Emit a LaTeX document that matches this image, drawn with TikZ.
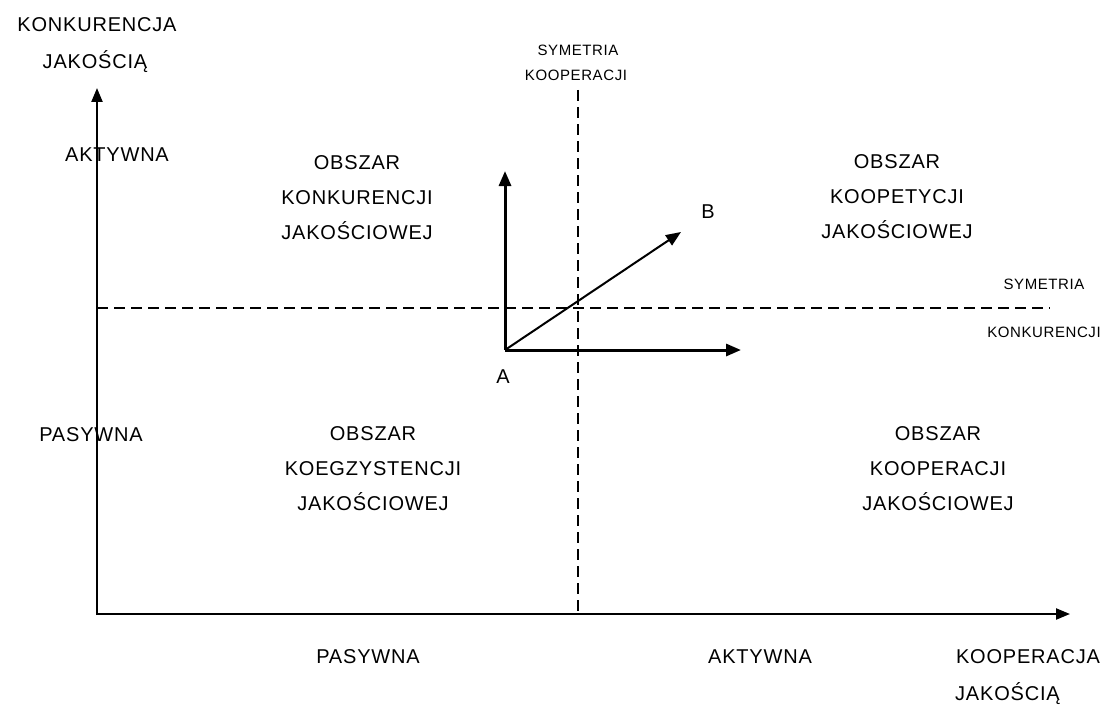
\documentclass[tikz,border=0pt]{standalone}
\usepackage{fontspec}
\setmainfont[LetterSpace=4]{Liberation Sans}
\usepackage{tikz}
\usetikzlibrary{arrows.meta}

\tikzset{
  axis/.style={line width=2.2pt, -{Triangle[length=14pt,width=11pt]}},
  vec/.style={line width=3pt, -{Triangle[length=15pt,width=12pt]}},
  guide/.style={line width=1.4pt, dash pattern=on 11pt off 6pt},
  lbl/.style={inner sep=0pt, font=\fontsize{20}{35}\selectfont, align=center},
  small/.style={inner sep=0pt, font=\fontsize{15}{20}\selectfont, align=center}
}

\begin{document}
\begin{tikzpicture}[x=1pt, y=-1pt]
    \useasboundingbox [fill=white] (0,0) rectangle (1107,706);

    % axes
    \coordinate (O) at (97,614);
    \coordinate (ytop) at (97,88);
    \coordinate (xend) at (1070,614);
    \draw [axis] (97,615) -- (ytop);
    \draw [axis] (96,614) -- (xend);

    % symmetry lines
    \coordinate (hl) at (97,308);
    \coordinate (hr) at (1050,308);
    \coordinate (vt) at (578,90);
    \coordinate (vb) at (578,614);
    \draw [guide] (hl) -- (hr);
    \draw [guide] (vt) -- (vb);

    % vectors
    \coordinate (A) at (505,350);
    \coordinate (Aup) at (505,171);
    \coordinate (Aright) at (741,350);
    \coordinate (Bend) at (681,232);
    \draw [vec] (A) -- (Aup);
    \draw [vec] (A) -- (Aright);
    \draw [line width=2pt, -{Triangle[length=15pt,width=12pt]}] (A) -- (Bend);
    \node [lbl] (labA) at (503,377) {A};
    \node [lbl] (labB) at (708,212) {B};

    % axis labels
    \node [lbl] (ky1) at (97,25) {KONKURENCJA};
    \node [lbl] (ky2) at (95,62) {JAKOŚCIĄ};
    \node [lbl] (yact) at (117,155) {AKTYWNA};
    \node [lbl] (ypas) at (91,435) {PASYWNA};
    \node [lbl] (xpas) at (368,657) {PASYWNA};
    \node [lbl] (xact) at (760,657) {AKTYWNA};
    \node [lbl] (kx1) at (1028,657) {KOOPERACJA};
    \node [lbl, anchor=west] (kx2) at (955,694) {JAKOŚCIĄ};

    \node [small] (sv1) at (578,50) {SYMETRIA};
    \node [small] (sv2) at (576,75) {KOOPERACJI};
    \node [small] (sh1) at (1044,284) {SYMETRIA};
    \node [small] (sh2) at (1044,332) {KONKURENCJI};

    % regions
    \node [lbl] (rKonk) at (357,198) {OBSZAR\\KONKURENCJI\\JAKOŚCIOWEJ};
    \node [lbl] (rKoop) at (897,197) {OBSZAR\\KOOPETYCJI\\JAKOŚCIOWEJ};
    \node [lbl] (rKoeg) at (373,469) {OBSZAR\\KOEGZYSTENCJI\\JAKOŚCIOWEJ};
    \node [lbl] (rKoper) at (938,469) {OBSZAR\\KOOPERACJI\\JAKOŚCIOWEJ};
\end{tikzpicture}
\end{document}
